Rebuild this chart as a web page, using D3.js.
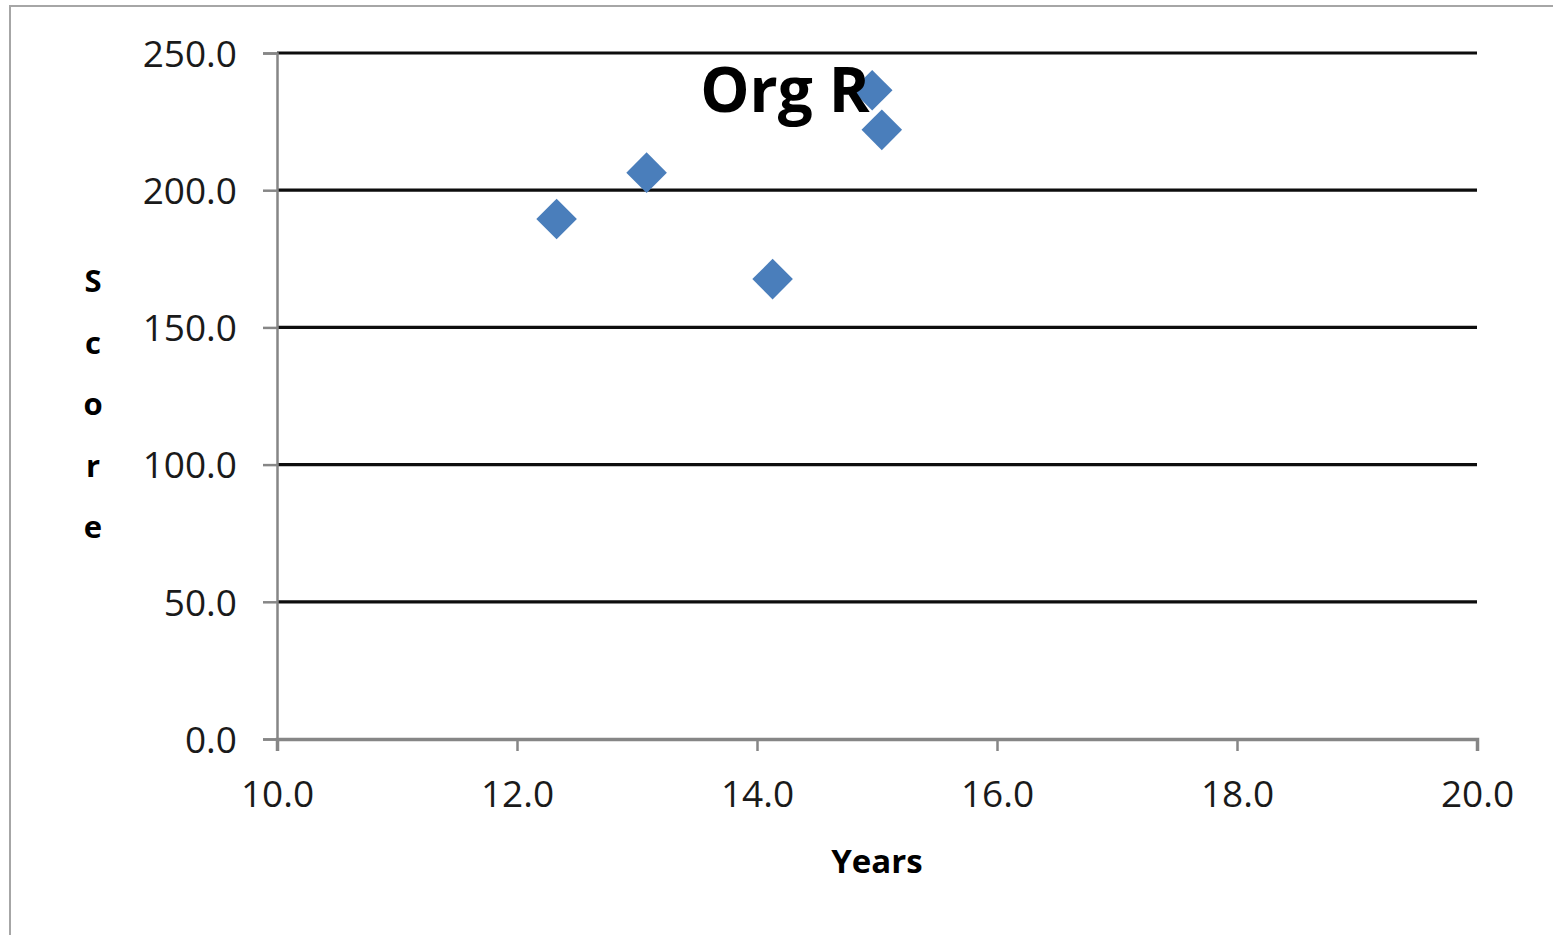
<!DOCTYPE html>
<html>
<head>
<meta charset="utf-8">
<script src="https://cdn.jsdelivr.net/npm/d3@7"></script>
<style>
  body { margin: 0; background: #fff; }
  svg { display: block; }
</style>
</head>
<body>
<svg id="chart" width="1553" height="935"></svg>
<script>
// values
const years = [12.33, 13.08, 14.13, 14.96, 15.04];
const scores = [189.5, 206.4, 167.6, 236.4, 222.0];
const xTicks = [10, 12, 14, 16, 18, 20];
const yTicks = [0, 50, 100, 150, 200, 250];
const yLabelLetters = ['S', 'c', 'o', 'r', 'e'];

const svg = d3.select('#chart');
const font = '"Open Sans", "Noto Sans", sans-serif';

// chart area border
svg.append('rect')
    .attr('x', 10).attr('y', 6)
    .attr('width', 1600).attr('height', 1000)
    .attr('fill', 'none')
    .attr('stroke', '#a6a6a6')
    .attr('stroke-width', 2);

const x = d3.scaleLinear().domain([10, 20]).range([277, 1477]);
const y = d3.scaleLinear().domain([0, 250]).range([739, 53]);

// gridlines
svg.append('g')
    .selectAll('line')
    .data(yTicks.filter(d => d > 0))
    .join('line')
    .attr('x1', x(10)).attr('x2', x(20))
    .attr('y1', d => y(d)).attr('y2', d => y(d))
    .attr('stroke', '#0d0d0d')
    .attr('stroke-width', 3.2);

// y axis
const yAxis = svg.append('g')
    .attr('transform', `translate(${x(10)},0)`)
    .call(d3.axisLeft(y).tickValues(yTicks).tickFormat(d3.format('.1f')).tickSize(14).tickPadding(26));
yAxis.select('.domain').attr('stroke', '#868686').attr('stroke-width', 2.5);
yAxis.selectAll('.tick line').attr('stroke', '#868686').attr('stroke-width', 2.5);
yAxis.selectAll('.tick text')
    .attr('font-family', font).attr('font-size', 37).attr('fill', '#1a1a1a')
    .attr('dy', '0.36em');

// x axis
const xAxis = svg.append('g')
    .attr('transform', `translate(0,${y(0)})`)
    .call(d3.axisBottom(x).tickValues(xTicks).tickFormat(d3.format('.1f')).tickSize(12).tickPadding(30));
xAxis.select('.domain').attr('stroke', '#868686').attr('stroke-width', 3.5);
xAxis.selectAll('.tick line').attr('stroke', '#868686').attr('stroke-width', 2.5);
xAxis.selectAll('.tick text')
    .attr('font-family', font).attr('font-size', 37).attr('fill', '#1a1a1a');

// points (diamonds)
svg.append('g')
    .selectAll('path')
    .data(years.map((d, i) => [d, scores[i]]))
    .join('path')
    .attr('d', d3.symbol().type(d3.symbolDiamond2).size(1050))
    .attr('transform', d => `translate(${x(d[0])},${y(d[1])})`)
    .attr('fill', '#4a7ebb');

// title, drawn over the points
svg.append('text')
    .attr('x', 785).attr('y', 112)
    .attr('text-anchor', 'middle')
    .attr('font-family', font).attr('font-weight', 'bold')
    .attr('font-size', 62).attr('fill', '#000')
    .text('Org R');

// x axis title
svg.append('text')
    .attr('x', 877).attr('y', 873)
    .attr('text-anchor', 'middle')
    .attr('font-family', font).attr('font-weight', 'bold')
    .attr('font-size', 33).attr('fill', '#000')
    .text('Years');

// y axis title, stacked letters
svg.append('text')
    .attr('font-family', font).attr('font-weight', 'bold')
    .attr('font-size', 31).attr('fill', '#000')
    .attr('text-anchor', 'middle')
    .selectAll('tspan')
    .data(yLabelLetters)
    .join('tspan')
    .attr('x', 93)
    .attr('y', (d, i) => 292 + i * 61.5)
    .text(d => d);
</script>
</body>
</html>
